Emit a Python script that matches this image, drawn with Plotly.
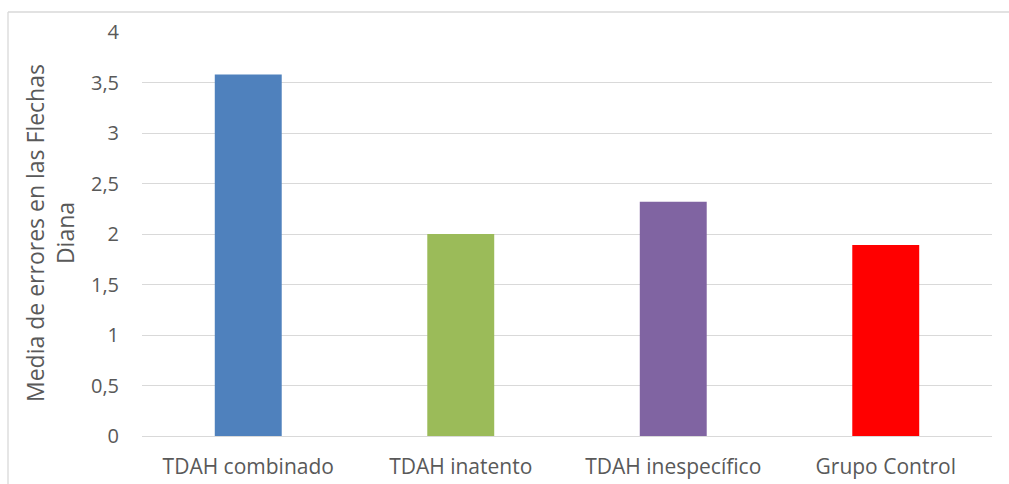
import plotly.graph_objects as go

# Mean errors on the "Flechas Diana" task by group
grupos = ["TDAH combinado", "TDAH inatento", "TDAH inespecífico", "Grupo Control"]
media_errores = [3.58, 2.0, 2.32, 1.89]
colores = ["#4F81BD", "#9BBB59", "#8064A2", "#FF0000"]
y_ticks = [0, 0.5, 1, 1.5, 2, 2.5, 3, 3.5, 4]

W, H = 1009, 484
L, R, T, B = 142, 17, 32, 48
pw, ph = W - L - R, H - T - B

def px_x(p):
    return (p - L) / pw

def px_y(p):
    return (H - B - p) / ph

fig = go.Figure(
    go.Bar(
        x=grupos,
        y=media_errores,
        marker=dict(color=colores, line=dict(width=0)),
        hoverinfo="x+y",
    )
)

frame = dict(color="#D9D9D9", width=1.3)

fig.update_layout(
    width=W,
    height=H,
    margin=dict(l=L, r=R, t=T, b=B, pad=0, autoexpand=False),
    paper_bgcolor="white",
    plot_bgcolor="white",
    separators=",.",
    bargap=0.685,
    showlegend=False,
    font=dict(family="Open Sans", size=21, color="#595959"),
    xaxis=dict(
        automargin=False,
        showgrid=False,
        showline=False,
        ticks="",
        ticklabelstandoff=16,
        tickfont=dict(size=21, color="#595959"),
    ),
    yaxis=dict(
        automargin=False,
        range=[0, 4],
        tickvals=y_ticks,
        ticktext=[f"{v:g}".replace(".", ",") for v in y_ticks],
        showgrid=True,
        gridcolor="#D9D9D9",
        gridwidth=1.3,
        zeroline=True,
        zerolinecolor="#D9D9D9",
        zerolinewidth=1.3,
        showline=False,
        ticks="",
        ticklabelstandoff=22,
        tickfont=dict(size=20, color="#595959"),
    ),
    annotations=[
        dict(
            text="Media de errores en las Flechas<br>Diana",
            textangle=-90,
            xref="paper",
            yref="paper",
            x=px_x(50),
            y=px_y(233),
            xanchor="center",
            yanchor="middle",
            showarrow=False,
            font=dict(size=23, color="#595959"),
        )
    ],
    shapes=[
        # chart frame: top and left edges
        dict(type="line", xref="paper", yref="paper",
             x0=px_x(8), x1=px_x(W + 5), y0=px_y(12), y1=px_y(12),
             line=frame, layer="below"),
        dict(type="line", xref="paper", yref="paper",
             x0=px_x(8), x1=px_x(8), y0=px_y(12), y1=px_y(H + 5),
             line=frame, layer="below"),
    ],
)

fig.write_html("out.html")
